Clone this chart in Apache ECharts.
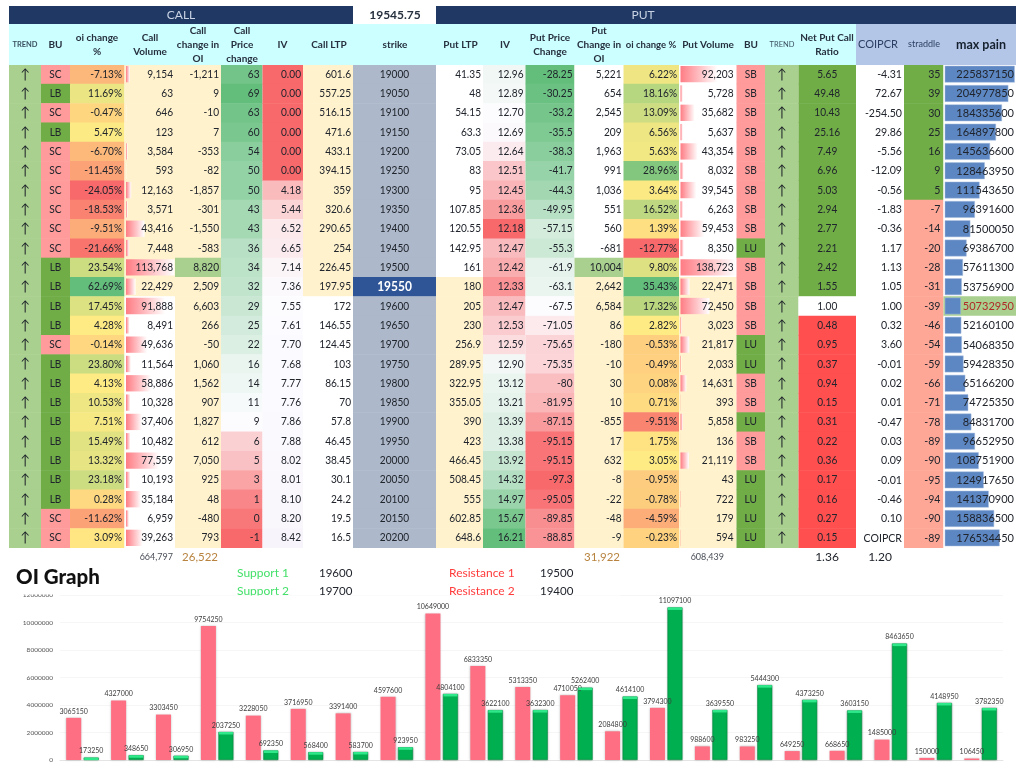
<!DOCTYPE html>
<html>
<head>
<meta charset="utf-8">
<title>Option chain</title>
<script src="https://cdn.jsdelivr.net/npm/echarts@6/dist/echarts.min.js"></script>
<style>
	html, body { margin: 0; padding: 0; background: #fff; }
	#chart { width: 1024px; height: 768px; }
</style>
</head>
<body>
<div id="chart"></div>
<script>
var strikes = [19000,19050,19100,19150,19200,19250,19300,19350,19400,19450,19500,19550,19600,19650,19700,19750,19800,19850,19900,19950,20000,20050,20100,20150,20200];
var spotPrice = '19545.75';
var atmStrike = 19550;
var trendArrows = ['↑','↑','↑','↑','↑','↑','↑','↑','↑','↑','↑','↑','↑','↑','↑','↑','↑','↑','↑','↑','↑','↑','↑','↑','↑'];

var callBU = ['SC','LB','SC','LB','SC','SC','SC','SC','SC','SC','LB','LB','LB','LB','SC','LB','LB','LB','LB','LB','LB','LB','LB','SC','SC'];
var callOiPct = [-7.13,11.69,-0.47,5.47,-6.70,-11.45,-24.05,-18.53,-9.51,-21.66,23.54,62.69,17.45,4.28,-0.14,23.80,4.13,10.53,7.51,15.49,13.32,23.18,0.28,-11.62,3.09];
var callVolume = [9154,63,646,123,3584,593,12163,3571,43416,7448,113768,22429,91888,8491,49636,11564,58886,10328,37406,10482,77559,10193,35184,6959,39263];
var callOiChange = [-1211,9,-10,7,-353,-82,-1857,-301,-1550,-583,8820,2509,6603,266,-50,1060,1562,907,1827,612,7050,925,48,-480,793];
var callPriceChange = [63,69,63,60,54,50,50,43,43,36,34,32,29,25,22,16,14,11,9,6,5,3,1,0,-1];
var callIV = [0,0,0,0,0,0,4.18,5.44,6.52,6.65,7.14,7.36,7.55,7.61,7.70,7.68,7.77,7.76,7.86,7.88,8.02,8.01,8.10,8.20,8.42];
var callLTP = [601.6,557.25,516.15,471.6,433.1,394.15,359,320.6,290.65,254,226.45,197.95,172,146.55,124.45,103,86.15,70,57.8,46.45,38.45,30.1,24.2,19.5,16.5];

var putLTP = [41.35,48,54.15,63.3,73.05,83,95,107.85,120.55,142.95,161,180,205,230,256.9,289.95,322.95,355.05,390,423,466.45,508.45,555,602.85,648.6];
var putIV = [12.96,12.89,12.70,12.69,12.64,12.51,12.45,12.36,12.18,12.47,12.42,12.33,12.47,12.53,12.59,12.90,13.12,13.21,13.39,13.38,13.92,14.32,14.97,15.67,16.21];
var putPriceChange = [-28.25,-30.25,-33.2,-35.5,-38.3,-41.7,-44.3,-49.95,-57.15,-55.3,-61.9,-63.1,-67.5,-71.05,-75.65,-75.35,-80,-81.95,-87.15,-95.15,-95.15,-97.3,-95.05,-89.85,-88.85];
var putOiChange = [5221,654,2545,209,1963,991,1036,551,560,-681,10004,2642,6584,86,-180,-10,30,10,-855,17,632,-8,-22,-48,-9];
var putOiPct = [6.22,18.16,13.09,6.56,5.63,28.96,3.64,16.52,1.39,-12.77,9.80,35.43,17.32,2.82,-0.53,-0.49,0.08,0.71,-9.51,1.75,3.05,-0.95,-0.78,-4.59,-0.23];
var putVolume = [92203,5728,35682,5637,43354,8032,39545,6263,59453,8350,138723,22471,72450,3023,21817,2033,14631,393,5858,136,21119,43,722,179,594];
var putBU = ['SB','SB','SB','SB','SB','SB','SB','SB','SB','LU','SB','SB','SB','SB','LU','LU','SB','SB','LU','SB','SB','LU','LU','LU','LU'];

var netPutCallRatio = [5.65,49.48,10.43,25.16,7.49,6.96,5.03,2.94,2.77,2.21,2.42,1.55,1.00,0.48,0.95,0.37,0.94,0.15,0.31,0.22,0.36,0.17,0.16,0.27,0.15];
var coipcr = [-4.31,72.67,-254.50,29.86,-5.56,-12.09,-0.56,-1.83,-0.36,1.17,1.13,1.05,1.00,0.32,3.60,-0.01,0.02,0.01,-0.47,0.03,0.09,-0.01,-0.46,0.10,'COIPCR'];
var straddle = [35,39,30,25,16,9,5,-7,-14,-20,-28,-31,-39,-46,-54,-59,-66,-71,-78,-89,-90,-95,-94,-90,-89];
var maxPain = [225837150,204977850,184335600,164897800,145636600,128463950,111543650,96391600,81500050,69386700,57611300,53756900,50732950,52160100,54068350,59428350,65166200,74725350,84831700,96652950,108751900,124917650,141370900,158836500,176534450];

var totalCallVolume = '664,797';
var totalCallOi = '26,522';
var totalPutOi = '31,922';
var totalPutVolume = '608,439';
var totalNetRatio = '1.36';
var totalCoipcr = '1.20';
var supportLabels = ['Support 1', 'Support 2'];
var supportValues = ['19600', '19700'];
var resistanceLabels = ['Resistance 1', 'Resistance 2'];
var resistanceValues = ['19500', '19400'];

// oi graph
var oiCategories = [19000,19050,19100,19150,19200,19250,19300,19350,19400,19450,19500,19550,19600,19650,19700,19750,19800,19850,19900,19950,20000];
var oiCall = [3065150,4327000,3303450,9754250,3228050,3716950,3391400,4597600,10649000,6833350,5313350,4710050,2084800,3794300,988600,983250,649250,668650,1485000,150000,106450];
var oiPut = [173250,348650,306950,2037250,692350,568400,583700,923950,4804100,3622100,3632300,5262400,4614100,11097100,3639550,5444300,4373250,3603150,8463650,4148950,3782350];
var oiTicks = [0,2000000,4000000,6000000,8000000,10000000,12000000];

var FONT = 'Lato';
var TEXT = '#20242c';
var CREAM = '#fff2cc';
var WHITE = '#ffffff';
var TREND_GREEN = '#a9d08e';
var BU_GREEN = '#70ad47';
var BU_PINK = '#ff9b9b';
var RED_WHITE_GREEN = ['#f8696b', '#fcfcff', '#63be7b'];
var RED_YELLOW_GREEN = ['#f8696b', '#ffeb84', '#63be7b'];
var CELL_SQUEEZE = 0.92; // the sheet font is narrower than Lato
var atmRow = strikes.indexOf(atmStrike);

function hexToRgb(hex) {
	return [parseInt(hex.substr(1, 2), 16), parseInt(hex.substr(3, 2), 16), parseInt(hex.substr(5, 2), 16)];
}

function mix(a, b, t) {
	var ca = hexToRgb(a), cb = hexToRgb(b);
	var c = [0, 1, 2].map(function (i) { return Math.round(ca[i] + (cb[i] - ca[i]) * t); });
	return 'rgb(' + c.join(',') + ')';
}

// same thing the spreadsheet does: 3 colour scale, min / mid / max
function colorScale(values, mid, colors) {
	var min = Math.min.apply(null, values);
	var max = Math.max.apply(null, values);
	return function (v) {
		if (v <= mid) return mix(colors[0], colors[1], (v - min) / (mid - min));
		return mix(colors[1], colors[2], (v - mid) / (max - mid));
	};
}

function fmtInt(v) {
	return v.toLocaleString('en-US');
}
function fmt2(v) {
	return typeof v === 'number' ? v.toFixed(2) : v;
}
function fmtPct(v) {
	return v.toFixed(2) + '%';
}
function plain(v) {
	return String(v);
}
function fixed(color) {
	return function () { return color; };
}
function buColor(v) {
	return (v === 'LB' || v === 'LU') ? BU_GREEN : BU_PINK;
}
function callSideBg(v, i) {
	return i <= atmRow ? CREAM : WHITE;
}
function putSideBg(v, i) {
	return i >= atmRow ? CREAM : WHITE;
}

var columns = [
	{ x0: 9, x1: 41, values: trendArrows, bg: fixed(TREND_GREEN), align: 'center', fmt: plain, size: 14 },
	{ x0: 41, x1: 70, values: callBU, bg: buColor, align: 'center', fmt: plain },
	{ x0: 70, x1: 124.5, values: callOiPct, bg: colorScale(callOiPct, 4.2, RED_YELLOW_GREEN), fmt: fmtPct, pad: 2.5 },
	{ x0: 124.5, x1: 175, values: callVolume, bg: callSideBg, fmt: fmtInt, bar: 'volume' },
	{ x0: 175, x1: 221, values: callOiChange, bg: function (v, i) { return v === 8820 ? TREND_GREEN : CREAM; }, fmt: fmtInt },
	{ x0: 221, x1: 262.5, values: callPriceChange, bg: colorScale(callPriceChange, 9, RED_WHITE_GREEN), fmt: plain, pad: 3 },
	{ x0: 262.5, x1: 303, values: callIV, bg: colorScale(callIV, 7.5, RED_WHITE_GREEN.slice(0, 2).concat(['#f8f4fb'])), fmt: fmt2 },
	{ x0: 303, x1: 353, values: callLTP, bg: callSideBg, fmt: plain },
	{ x0: 353, x1: 436, values: strikes, bg: function (v) { return v === atmStrike ? '#2f5597' : '#adb9ca'; }, align: 'center', fmt: plain,
		color: function (v) { return v === atmStrike ? '#fff' : TEXT; }, weight: function (v) { return v === atmStrike ? 'bold' : 'normal'; }, size: function (v) { return v === atmStrike ? 13 : 11; } },
	{ x0: 436, x1: 483, values: putLTP, bg: putSideBg, fmt: plain },
	{ x0: 483, x1: 525.5, values: putIV, bg: colorScale(putIV, 12.7, RED_WHITE_GREEN), fmt: fmt2 },
	{ x0: 525.5, x1: 574.5, values: putPriceChange, bg: colorScale(putPriceChange, -67.5, RED_WHITE_GREEN), fmt: plain },
	{ x0: 574.5, x1: 623.5, values: putOiChange, bg: function (v, i) { return v === 10004 ? TREND_GREEN : putSideBg(v, i); }, fmt: fmtInt },
	{ x0: 623.5, x1: 679, values: putOiPct, bg: colorScale(putOiPct, 2.8, RED_YELLOW_GREEN), fmt: fmtPct },
	{ x0: 679, x1: 736.5, values: putVolume, bg: putSideBg, fmt: fmtInt, bar: 'volume', pad: 3 },
	{ x0: 736.5, x1: 765, values: putBU, bg: buColor, align: 'center', fmt: plain },
	{ x0: 765, x1: 798.5, values: trendArrows, bg: fixed(TREND_GREEN), align: 'center', fmt: plain, size: 14 },
	{ x0: 798.5, x1: 856, values: netPutCallRatio, align: 'center', fmt: fmt2,
		bg: function (v) { return v > 1 ? BU_GREEN : (v === 1 ? WHITE : '#ff4f4f'); } },
	{ x0: 856, x1: 904, values: coipcr, bg: fixed(WHITE), fmt: fmt2, size: 11.5 },
	{ x0: 904, x1: 943.5, values: straddle, fmt: plain, pad: 3, size: 11.5,
		bg: function (v) { return v > 0 ? BU_GREEN : '#ffa797'; } },
	{ x0: 943.5, x1: 1016, values: maxPain, fmt: plain, bar: 'pain', size: 12,
		bg: function (v) { return v === Math.min.apply(null, maxPain) ? TREND_GREEN : WHITE; },
		color: function (v) { return v === Math.min.apply(null, maxPain) ? '#b02a2a' : TEXT; } }
];

function callable(x, v, dflt) {
	if (x === undefined) return dflt;
	return typeof x === 'function' ? x(v) : x;
}

function makeCellRenderer(col) {
	var maxValue = col.bar ? Math.max.apply(null, col.values) : 0;
	return function (params, api) {
		var i = params.dataIndex;
		var v = col.values[i];
		var center = api.coord([col.x0, i]);
		var left = center[0];
		var right = api.coord([col.x1, i])[0];
		var h = api.size([0, 1])[1];
		var top = center[1] - h / 2;
		var children = [{
			type: 'rect',
			shape: { x: left, y: top, width: right - left, height: h + 0.5 },
			style: { fill: col.bg(v, i) }
		}];
		if (col.bar === 'volume') {
			children.push({
				type: 'rect',
				shape: { x: left + 1.5, y: top + 1.5, width: (right - left - 2) * v / maxValue, height: h - 3 },
				style: {
					fill: new echarts.graphic.LinearGradient(0, 0, 1, 0, [
						{ offset: 0, color: '#ff7c84' },
						{ offset: 1, color: '#ffffff' }
					])
				}
			});
		} else if (col.bar === 'pain') {
			children.push({
				type: 'rect',
				shape: { x: left + 1.5, y: top + 1.5, width: (right - left - 3) * v / maxValue, height: h - 3 },
				style: { fill: '#5d87c2', stroke: '#a9bfe0', lineWidth: 0.5 }
			});
		}
		var align = col.align || 'right';
		children.push({
			type: 'text',
			z2: 5,
			x: align === 'center' ? (left + right) / 2 : right - (col.pad === undefined ? 2 : col.pad),
			y: center[1],
			scaleX: CELL_SQUEEZE,
			style: {
				text: col.fmt(v),
				x: 0,
				y: 0,
				align: align,
				verticalAlign: 'middle',
				fontFamily: FONT,
				fontSize: callable(col.size, v, 11),
				fontWeight: callable(col.weight, v, 'normal'),
				fill: callable(col.color, v, TEXT)
			}
		});
		return { type: 'group', children: children };
	};
}

var tableSeries = columns.map(function (col) {
	return {
		type: 'custom',
		xAxisIndex: 0,
		yAxisIndex: 0,
		silent: true,
		clip: false,
		data: col.values.map(function (v, i) { return [col.x0, i]; }),
		renderItem: makeCellRenderer(col)
	};
});

function text(str, x, y, opt) {
	opt = opt || {};
	return {
		type: 'text',
		silent: true,
		z: opt.z || 10,
		style: {
			text: str,
			x: x,
			y: y,
			align: opt.align || 'center',
			verticalAlign: 'middle',
			lineHeight: opt.lineHeight || 14,
			fontFamily: FONT,
			fontSize: opt.size || 10,
			fontWeight: opt.weight || 'bold',
			fill: opt.color || '#26303e'
		}
	};
}

function box(x, y, w, h, fill, z) {
	return { type: 'rect', silent: true, z: z || 9, shape: { x: x, y: y, width: w, height: h }, style: { fill: fill } };
}

var graphics = [
	box(9, 6, 344, 18, '#1f3864'),
	box(436, 6, 580, 18, '#1f3864'),
	box(9, 24, 847, 41, '#ccffff'),
	box(856, 24, 160, 41, '#b4c6e7'),
	text('CALL', 181, 15.5, { color: '#c9d3e4', size: 12, weight: 'normal' }),
	text(spotPrice, 395, 15.5, { size: 12 }),
	text('PUT', 643, 15.5, { color: '#c9d3e4', size: 12, weight: 'normal' }),
	text('TREND', 25, 44.5, { size: 7.5, color: '#3a5060' }),
	text('BU', 55.5, 44.5),
	text('oi change\n%', 97, 45),
	text('Call\nVolume', 150, 45),
	text('Call\nchange in\nOI', 198, 45),
	text('Call\nPrice\nchange', 242, 45),
	text('IV', 282.5, 44.5),
	text('Call LTP', 329, 44.5),
	text('strike', 395, 44.5),
	text('Put LTP', 460.5, 44.5),
	text('IV', 505, 44.5),
	text('Put Price\nChange', 550, 45),
	text('Put\nChange in\nOI', 599, 45),
	text('oi change %', 651, 44.5, { size: 9.5 }),
	text('Put Volume', 708, 44.5),
	text('BU', 751, 44.5),
	text('TREND', 782, 44.5, { size: 7.5, weight: 'normal', color: '#3a5060' }),
	text('Net Put Call\nRatio', 827, 45),
	text('COIPCR', 858, 44.5, { align: 'left', size: 11, weight: 'normal', color: '#2a3f63' }),
	text('straddle', 924, 44.5, { size: 9, weight: 'normal', color: '#2a3f63' }),
	text('max pain', 981, 45, { size: 12.5, color: '#15202e' }),

	text(totalCallVolume, 173, 557.5, { align: 'right', size: 9, weight: 'normal', color: '#4a4f58' }),
	text(totalCallOi, 218, 557.5, { align: 'right', size: 11.5, weight: 'normal', color: '#b8833f' }),
	text(totalPutOi, 620, 557.5, { align: 'right', size: 11.5, weight: 'normal', color: '#b8833f' }),
	text(totalPutVolume, 724, 557.5, { align: 'right', size: 9, weight: 'normal', color: '#4a4f58' }),
	text(totalNetRatio, 827, 557.5, { size: 12, weight: 'normal', color: TEXT }),
	text(totalCoipcr, 880, 557.5, { size: 12, weight: 'normal', color: TEXT }),

	text('OI Graph', 16, 577, { align: 'left', size: 20.5, weight: 900, color: '#111' }),
	text(supportLabels[0], 237, 573, { align: 'left', size: 12, weight: 'normal', color: '#45e06a' }),
	text(supportValues[0], 319, 573, { align: 'left', size: 11.5, weight: 'normal', color: TEXT }),
	text(resistanceLabels[0], 449, 573, { align: 'left', size: 12, weight: 'normal', color: '#ff3b3b' }),
	text(resistanceValues[0], 540, 573, { align: 'left', size: 11.5, weight: 'normal', color: TEXT }),
	text(supportLabels[1], 237, 591, { align: 'left', size: 12, weight: 'normal', color: '#45e06a' }),
	text(supportValues[1], 319, 591, { align: 'left', size: 11.5, weight: 'normal', color: TEXT }),
	text(resistanceLabels[1], 449, 591, { align: 'left', size: 12, weight: 'normal', color: '#ff3b3b' }),
	text(resistanceValues[1], 540, 591, { align: 'left', size: 11.5, weight: 'normal', color: TEXT }),
	// the graph picture sits on top of the second support row and cuts it off,
	// and its own top tick label is cut by the picture edge
	box(200, 595.5, 420, 4, '#ffffff', 11),
	box(20, 589, 40, 5.5, '#ffffff', 11)
];

var barLabel = {
	show: true,
	position: 'top',
	distance: 3,
	fontFamily: FONT,
	fontSize: 7,
	color: '#3c3c3c'
};

var BAR_W = 15;
var BAR_GAP = 2.5;

var option = {
	animation: false,
	backgroundColor: '#ffffff',
	graphic: { elements: graphics },
	grid: [
		{ left: 0, width: 1024, top: 64.5, height: 483 },
		{ left: 60, width: 943, top: 595, height: 165 }
	],
	xAxis: [
		{ type: 'value', gridIndex: 0, min: 0, max: 1024, show: false },
		{
			type: 'category',
			gridIndex: 1,
			data: oiCategories,
			axisLine: { lineStyle: { color: '#e4e4e4' } },
			axisTick: { show: false },
			axisLabel: { show: false }
		}
	],
	yAxis: [
		{ type: 'category', gridIndex: 0, inverse: true, data: strikes, show: false },
		{
			type: 'value',
			gridIndex: 1,
			min: oiTicks[0],
			max: oiTicks[oiTicks.length - 1],
			interval: oiTicks[1] - oiTicks[0],
			axisLine: { show: false },
			axisTick: { show: false },
			axisLabel: { fontFamily: FONT, fontSize: 6.5, color: '#555', margin: 7, formatter: function (v) { return String(v); } },
			splitLine: { lineStyle: { color: '#f6f6f6' } }
		}
	],
	series: tableSeries.concat([
		{
			name: 'Call OI',
			type: 'bar',
			xAxisIndex: 1,
			yAxisIndex: 1,
			data: oiCall,
			barWidth: BAR_W,
			barGap: (BAR_GAP / BAR_W * 100) + '%',
			itemStyle: { color: '#ff6f83', shadowBlur: 2, shadowColor: 'rgba(0,0,0,0.25)' },
			label: barLabel
		},
		{
			name: 'Put OI',
			type: 'bar',
			xAxisIndex: 1,
			yAxisIndex: 1,
			data: oiPut,
			barWidth: BAR_W,
			itemStyle: { color: '#00b050', borderColor: '#068a43', borderWidth: 0.5, shadowBlur: 2, shadowColor: 'rgba(0,0,0,0.25)' },
			label: barLabel
		},
		{
			// lighter bevel on top of the green bars
			name: 'Put OI cap',
			type: 'custom',
			xAxisIndex: 1,
			yAxisIndex: 1,
			silent: true,
			z: 3,
			data: oiPut,
			renderItem: function (params, api) {
				var p = api.coord([params.dataIndex, api.value(1)]);
				return {
					type: 'rect',
					shape: { x: p[0] + BAR_GAP / 2 + 0.5, y: p[1], width: BAR_W - 1, height: 2.5 },
					style: { fill: '#2fe88a' }
				};
			}
		}
	])
};

var chart = echarts.init(document.getElementById('chart'), null, { renderer: 'canvas' });
chart.setOption(option);
</script>
</body>
</html>
